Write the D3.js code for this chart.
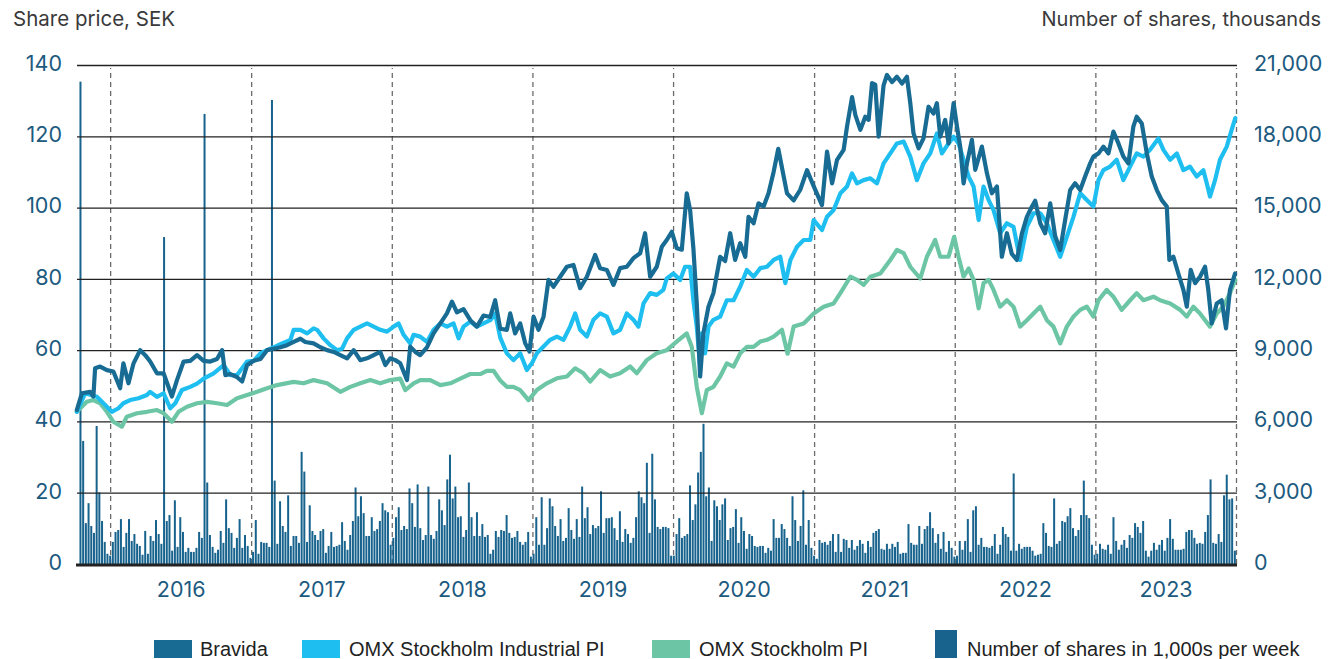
<!DOCTYPE html>
<html><head><meta charset="utf-8">
<script src="https://cdn.jsdelivr.net/npm/d3@7"></script>
<style>body{margin:0;background:#fff} svg{display:block}</style>
</head><body><svg id="c" width="1333" height="659"></svg>
<script>
// ---------- DATA ----------
const yearLabels = ["2016","2017","2018","2019","2020","2021","2022","2023"];
const leftTicks = [0,20,40,60,80,100,120,140];
const rightTicks = [0,3000,6000,9000,12000,15000,18000,21000];
const seriesNames = ["Bravida","OMX Stockholm Industrial PI","OMX Stockholm PI","Number of shares in 1,000s per week"];
const volumeStart = "2015-10-16"; // first weekly bar
// weekly volume, thousands of shares
const volume = [
20300,5180,1720,2560,1600,1310,5810,3010,1810,930,
430,350,930,1350,1430,1890,720,1310,1890,970,
1260,850,760,390,1390,430,1180,970,1850,1260,
850,13760,1810,2060,560,2680,720,1970,1350,510,
680,510,510,680,1350,1100,18940,3430,1220,720,
470,600,1390,890,2720,1510,1310,680,1100,1890,
680,1220,760,260,510,1850,430,930,890,890,
720,19530,3510,850,2640,1600,1350,2890,760,1180,
1180,890,4720,3890,930,2470,1390,1220,1010,1390,
1470,470,760,1350,720,760,810,1760,970,600,
1220,1810,3220,2010,2850,2140,1180,1180,1970,1390,
1470,1810,2560,2260,2180,810,1100,1970,2390,1430,
1600,1470,3180,2560,1560,3350,1510,1010,1220,3260,
1220,1060,1390,2720,2260,1640,3560,4600,2760,3260,
1970,2010,1140,1430,
3430,1970,1180,2180,1180,1680,1140,1220,430,600,
1390,1140,1430,1390,2060,1310,1100,1140,1390,930,
810,930,1350,310,430,1970,810,2810,810,1510,
2760,2430,1600,1180,1890,970,1100,2350,1430,1060,
1890,1140,3260,1930,2390,1260,1640,1510,1600,3060,
1310,1930,1930,1970,1510,1010,2220,930,1470,1260,
890,1100,1970,3060,2810,2560,4260,1310,4640,2720,
1560,1470,1560,1560,1510,350,350,1260,1930,1100,
1180,1260,3310,1850,2510,3850,4720,5900,2850,3220,
970,2680,2430,1850,2510,2760,1010,1510,1560,2310,
890,1970,1390,640,1260,1180,760,720,760,760,
470,680,560,1890,1100,1100,1680,1470,1100,760,
2850,1850,970,1600,3100,810,1850,680,350,220,
1010,890,930,810,970,1260,510,1260,510,1060,
1010,680,1010,600,
760,1010,850,470,970,720,1310,1390,1470,640,
600,850,640,850,720,930,430,470,470,1680,
890,810,810,1600,850,1470,1600,2180,1510,890,
1260,640,1350,510,970,680,310,350,970,600,
970,1890,510,2260,2430,810,1100,720,720,680,
760,1260,430,810,1560,1260,1140,560,3810,560,
850,640,720,720,720,560,350,390,430,1720,
1310,760,720,2760,850,970,1810,1760,2010,2350,
1510,1180,1430,2060,3510,2060,1930,810,390,430,
850,640,600,810,430,1970,970,600,810,1010,
680,1220,1100,1720,1560,1310,1810,560,310,560,
890,600,810,1010,560,1100,1890,1060,600,600,
600,640,1350,1430,1430,1100,850,890,850,1350,
2060,3560,890,850,1260,930,2890,3760,2720,2760,
560];
// [decimal year, SEK]
const bravida = [
[2015.763,43.2],[2015.799,47.9],[2015.858,48.3],[2015.881,47],[2015.893,54.9],[2015.929,55.4],[2015.977,54.4],[2016.023,54],[2016.071,49.3],[2016.094,56.3],
[2016.130,50.7],[2016.166,56.3],[2016.213,60],[2016.249,58.6],[2016.284,56.8],[2016.332,53.5],[2016.379,53.5],[2016.438,47],[2016.474,51.6],[2016.521,56.8],
[2016.568,57],[2016.616,58.6],[2016.663,57],[2016.710,56.8],[2016.758,57.5],[2016.794,60],[2016.817,53],[2016.853,53.3],[2016.900,52.4],[2016.936,51.2],
[2016.971,55.8],[2017.018,57],[2017.066,57.5],[2017.113,60],[2017.160,60.4],[2017.208,60.8],[2017.255,61.4],[2017.302,62.3],[2017.350,63.2],[2017.385,62.3],
[2017.444,61.9],[2017.492,60.8],[2017.540,60],[2017.587,59.5],[2017.634,58.6],[2017.682,57.7],[2017.729,60],[2017.776,57.2],[2017.824,57.7],[2017.871,58.6],
[2017.918,59.5],[2017.954,55.8],[2017.989,57.7],[2018.025,57.2],[2018.060,56.3],[2018.108,51.6],[2018.131,61],[2018.167,59.5],[2018.202,58.6],[2018.250,60.8],
[2018.297,64.7],[2018.345,67.5],[2018.392,70.3],[2018.428,73.6],[2018.463,70.6],[2018.510,71.5],[2018.558,68.4],[2018.605,66.6],[2018.652,69.7],[2018.700,69.3],
[2018.735,74],[2018.771,66],[2018.818,65.7],[2018.842,70.3],[2018.877,64.7],[2018.913,67.5],[2018.949,61.9],[2018.979,59.6],[2019.008,69.4],[2019.043,65.7],
[2019.079,69.4],[2019.114,79.7],[2019.150,77.8],[2019.197,80.6],[2019.245,83.4],[2019.292,83.9],[2019.339,77.4],[2019.387,80.6],[2019.446,86.7],[2019.481,83],
[2019.529,82.5],[2019.576,78.3],[2019.623,83],[2019.671,83.4],[2019.718,85.8],[2019.766,87.2],[2019.801,92.8],[2019.837,80.6],[2019.884,83.4],[2019.920,89],
[2019.955,90.9],[2019.991,93.2],[2020.026,88.6],[2020.062,88.2],[2020.097,104],[2020.121,99.3],[2020.144,88.6],[2020.168,73.1],[2020.192,52.6],[2020.215,64.7],
[2020.251,72.2],[2020.286,76],[2020.334,86.2],[2020.369,85],[2020.405,92.8],[2020.440,85.3],[2020.476,90],[2020.512,86.2],[2020.535,97.4],[2020.571,95.6],
[2020.606,101.2],[2020.642,100.3],[2020.677,104],[2020.713,110],[2020.746,116.5],[2020.808,104],[2020.855,102],[2020.902,105],[2020.950,110.5],[2020.997,106],
[2021.056,100.7],[2021.092,115.7],[2021.128,106.8],[2021.163,113.4],[2021.210,116.2],[2021.234,122.7],[2021.270,131],[2021.293,126],[2021.329,121.8],[2021.364,125.5],
[2021.388,124.6],[2021.412,134.9],[2021.435,134.5],[2021.459,119.9],[2021.494,134.3],[2021.518,137.2],[2021.554,135.2],[2021.589,136.7],[2021.625,134.8],[2021.660,136.7],
[2021.684,129.3],[2021.707,120.8],[2021.743,116.6],[2021.778,119.4],[2021.814,128.3],[2021.849,126.4],[2021.873,129.3],[2021.897,119.9],[2021.932,124.6],[2021.956,118],
[2021.992,129.3],[2022.016,122.7],[2022.039,117.1],[2022.063,106.8],[2022.087,112.4],[2022.122,119],[2022.146,110.6],[2022.193,117.1],[2022.229,109.6],[2022.264,104],
[2022.300,105.9],[2022.335,86.2],[2022.371,92.8],[2022.406,87],[2022.442,85.3],[2022.478,92.8],[2022.513,97.4],[2022.549,100.3],[2022.572,101.9],[2022.608,95.6],
[2022.643,92.8],[2022.679,101.2],[2022.714,92],[2022.750,88.1],[2022.785,96.5],[2022.821,104.9],[2022.856,106.8],[2022.892,104.9],[2022.927,108.7],[2022.963,112.4],
[2022.986,114.3],[2023.022,115.2],[2023.057,117.1],[2023.093,115.2],[2023.128,121.3],[2023.164,118],[2023.199,114.3],[2023.235,112.4],[2023.270,122.7],[2023.294,125.5],
[2023.330,123.6],[2023.366,115.2],[2023.401,108.7],[2023.437,104.9],[2023.472,102.1],[2023.508,100.3],[2023.526,85.3],[2023.555,86.2],[2023.590,81.5],[2023.626,76.9],
[2023.650,72.2],[2023.678,82.5],[2023.709,78.8],[2023.744,80.6],[2023.780,83.4],[2023.803,76.9],[2023.827,67.5],[2023.863,73.1],[2023.898,74],[2023.929,66.1],
[2023.957,76.9],[2023.993,81.5]];
const industrial = [
[2015.763,42.7],[2015.822,47.9],[2015.906,46.9],[2015.952,45.1],[2016.012,42.7],[2016.059,43.7],[2016.094,45.1],[2016.142,46],[2016.201,46.5],[2016.261,47.4],
[2016.284,48.3],[2016.332,46.9],[2016.379,47.9],[2016.426,43.7],[2016.462,45.1],[2016.509,48.8],[2016.568,49.7],[2016.616,50.6],[2016.663,52],[2016.734,53.5],
[2016.805,55.8],[2016.853,53],[2016.900,53],[2016.936,54.9],[2016.971,56.8],[2017.018,57],[2017.066,59.1],[2017.113,60],[2017.160,60.8],[2017.208,61.7],
[2017.279,62.9],[2017.302,65.7],[2017.350,65.7],[2017.398,64.7],[2017.444,66.1],[2017.469,65.7],[2017.515,63.3],[2017.563,61.4],[2017.611,60],[2017.646,60.4],
[2017.682,63.3],[2017.729,65.7],[2017.776,66.6],[2017.824,67.5],[2017.871,66.6],[2017.918,65.7],[2017.966,65.2],[2018.013,66.6],[2018.048,67.5],[2018.084,64.3],
[2018.131,61.9],[2018.155,64.3],[2018.202,63.8],[2018.250,62.3],[2018.297,65.7],[2018.345,67.5],[2018.392,66.6],[2018.439,67.5],[2018.475,63.3],[2018.510,66.6],
[2018.558,68],[2018.605,66.6],[2018.652,67.5],[2018.700,68.4],[2018.735,70.3],[2018.771,63.5],[2018.818,59.1],[2018.865,57.2],[2018.913,59.1],[2018.960,54.4],
[2018.996,56.3],[2019.031,59.1],[2019.079,61],[2019.126,62.9],[2019.174,63.8],[2019.221,62.9],[2019.268,66.6],[2019.304,70.3],[2019.339,65.7],[2019.387,63.8],
[2019.434,68.5],[2019.481,70.3],[2019.529,69.4],[2019.576,64.7],[2019.623,65.7],[2019.671,70.3],[2019.718,68.5],[2019.754,66.6],[2019.790,73.1],[2019.837,76],
[2019.884,75.5],[2019.931,76.9],[2019.955,80.1],[2020.003,81.5],[2020.050,79.7],[2020.085,83.4],[2020.121,83.4],[2020.144,74],[2020.168,66.6],[2020.192,55.4],
[2020.204,64.7],[2020.227,59.1],[2020.251,66.6],[2020.286,68.5],[2020.334,69.4],[2020.381,74],[2020.429,74],[2020.476,77.8],[2020.523,82.5],[2020.571,80.6],
[2020.618,83],[2020.666,83.4],[2020.713,85.3],[2020.760,86.2],[2020.796,78.8],[2020.832,85.3],[2020.879,89],[2020.926,90.9],[2020.973,90.9],[2020.997,96.5],
[2021.056,93.7],[2021.092,97.4],[2021.139,99.3],[2021.187,104],[2021.234,105.9],[2021.270,109.6],[2021.305,106.8],[2021.352,107.7],[2021.400,108.2],[2021.447,106.8],
[2021.494,112.4],[2021.542,115.2],[2021.589,118],[2021.637,118.5],[2021.684,114.3],[2021.731,107.7],[2021.778,112.4],[2021.826,115.2],[2021.873,120.8],[2021.909,115.2],
[2021.956,118],[2021.992,119.9],[2022.027,118],[2022.063,113.4],[2022.099,108.7],[2022.134,105.9],[2022.170,96.5],[2022.205,105.9],[2022.241,102.1],[2022.276,99.3],
[2022.323,92.8],[2022.371,95.6],[2022.418,94.6],[2022.465,85.3],[2022.513,94.6],[2022.560,98.4],[2022.608,98.4],[2022.655,95.6],[2022.702,90.9],[2022.750,86.2],
[2022.797,91.8],[2022.844,97.4],[2022.892,104],[2022.939,102.1],[2022.986,100.3],[2023.022,107.7],[2023.057,110.5],[2023.105,111.5],[2023.152,113.4],[2023.199,107.7],
[2023.247,111.5],[2023.294,115.2],[2023.342,114.3],[2023.389,116.2],[2023.448,119.4],[2023.484,116.2],[2023.532,113.4],[2023.579,115.2],[2023.626,110.5],[2023.673,111.5],
[2023.721,108.7],[2023.768,110.5],[2023.792,106.8],[2023.815,103.1],[2023.851,107.7],[2023.886,113.4],[2023.934,117.1],[2023.969,121.8],[2023.995,125.1]];
const omx = [
[2015.763,42.7],[2015.834,45.5],[2015.881,46],[2015.929,45.1],[2015.977,42.7],[2016.023,39.9],[2016.083,38.5],[2016.118,41.3],[2016.190,42.3],[2016.261,42.7],
[2016.332,43.2],[2016.379,42.3],[2016.438,39.9],[2016.485,42.7],[2016.545,44.1],[2016.616,45.1],[2016.687,45.5],[2016.758,45.1],[2016.829,44.6],[2016.900,46.5],
[2016.971,47.4],[2017.042,48.3],[2017.113,49.3],[2017.184,50.2],[2017.302,51.1],[2017.373,50.7],[2017.444,51.6],[2017.540,50.7],[2017.634,48.3],[2017.705,49.7],
[2017.776,50.7],[2017.847,51.6],[2017.918,50.7],[2017.989,51.6],[2018.060,52],[2018.096,48.8],[2018.155,50.7],[2018.202,51.6],[2018.274,51.6],[2018.345,50.2],
[2018.416,50.7],[2018.487,52],[2018.558,53.3],[2018.629,53.3],[2018.676,54.2],[2018.723,54.2],[2018.771,51.5],[2018.818,49.7],[2018.865,49.7],[2018.913,48.8],
[2018.972,46],[2019.031,48.8],[2019.102,50.7],[2019.174,52.1],[2019.245,52.6],[2019.304,54.9],[2019.363,53.5],[2019.410,51.2],[2019.481,54.4],[2019.552,52.6],
[2019.623,53.5],[2019.695,55.4],[2019.742,53.5],[2019.813,57.2],[2019.884,59.1],[2019.955,60],[2020.026,62.4],[2020.097,64.7],[2020.133,60.9],[2020.168,49.7],
[2020.204,42.3],[2020.239,48.8],[2020.286,49.7],[2020.334,52.6],[2020.381,56.3],[2020.429,55.4],[2020.476,59.1],[2020.523,60.9],[2020.571,60.9],[2020.618,62.4],
[2020.666,62.9],[2020.713,63.8],[2020.772,65.7],[2020.812,59],[2020.855,66.6],[2020.926,67.5],[2020.997,70.3],[2021.068,72.2],[2021.139,73.1],[2021.187,76],
[2021.258,80.6],[2021.305,79.7],[2021.352,78.3],[2021.400,80.6],[2021.471,81.5],[2021.542,85.3],[2021.589,88.1],[2021.637,87.2],[2021.684,83.4],[2021.755,80.1],
[2021.802,86.2],[2021.861,90.9],[2021.897,86.2],[2021.956,86.2],[2021.996,91.8],[2022.027,86.2],[2022.063,80.6],[2022.099,82.9],[2022.134,79.7],[2022.170,71.7],
[2022.205,78.8],[2022.241,79.7],[2022.276,76.9],[2022.323,72.2],[2022.371,74],[2022.418,72.2],[2022.465,66.6],[2022.513,68.4],[2022.560,70.3],[2022.608,72.2],
[2022.655,68.4],[2022.702,66.6],[2022.750,61.9],[2022.797,66.6],[2022.844,69.4],[2022.892,71.3],[2022.939,72.2],[2022.986,69.4],[2023.022,74],[2023.081,76.9],
[2023.128,75],[2023.187,71.3],[2023.247,74],[2023.294,76],[2023.342,74],[2023.413,75],[2023.460,74],[2023.532,73.1],[2023.603,71.3],[2023.650,69.4],
[2023.697,72.2],[2023.744,70.3],[2023.815,66.6],[2023.863,70.3],[2023.910,72.2],[2023.957,76],[2023.995,79.7]];

// ---------- STYLE ----------
const C = {bravida:"#186b93", industrial:"#1ebff0", omx:"#6cc6a5", bars:"#17638d", axis:"#1c5a80", head:"#3a3a3a"};
const M = {left:77, right:1237, top:65, bottom:564};

const svg = d3.select("#c");
const toDate = t => { const y = Math.floor(t); const a = Date.UTC(y,0,1), b = Date.UTC(y+1,0,1); return new Date(a + (t-y)*(b-a)); };

const x = d3.scaleUtc().domain([new Date(Date.UTC(2015,9,7)), new Date(Date.UTC(2024,0,1))]).range([M.left, M.right-1]);
const yL = d3.scaleLinear().domain([0,140]).range([M.bottom, M.top]);
const yR = d3.scaleLinear().domain([0,21000]).range([M.bottom, M.top]);

const font = "Inter, 'Noto Sans', sans-serif";

// headers
svg.append("text").attr("x",13).attr("y",26).attr("font-family",font).attr("font-size",20.5).attr("fill",C.head).text("Share price, SEK");
svg.append("text").attr("x",1321).attr("y",26).attr("text-anchor","end").attr("font-family",font).attr("font-size",20).attr("fill",C.head).text("Number of shares, thousands");

// dashed year separators
const yearStarts = d3.range(2016,2025).map(y => new Date(Date.UTC(y,0,1)));
const gDash = svg.append("g").attr("transform",`translate(0,${M.bottom})`)
  .call(d3.axisBottom(x).tickValues(yearStarts).tickSize(-(M.bottom-M.top-3)).tickFormat(""));
gDash.select(".domain").remove();
gDash.selectAll("line").attr("stroke","#6b6b6b").attr("stroke-width",1.3).attr("stroke-dasharray","5,4");

// bars
const start = new Date(volumeStart+"T00:00:00Z");
svg.append("g").selectAll("rect").data(volume).join("rect")
  .attr("x",(d,i)=> x(d3.utcDay.offset(start,i*7)) - 1)
  .attr("width",2)
  .attr("y",d=>yR(d))
  .attr("height",d=>M.bottom - yR(d))
  .attr("fill",C.bars);

// gridlines
const gGrid = svg.append("g").attr("transform",`translate(${M.left},0)`)
  .call(d3.axisLeft(yL).tickValues(leftTicks.slice(1)).tickSize(-(M.right-M.left)).tickFormat(""));
gGrid.select(".domain").remove();
gGrid.selectAll("line").attr("stroke","#222").attr("stroke-width",1.3);

// lines
const line = d3.line().x(d=>x(toDate(d[0]))).y(d=>yL(d[1]));
[[omx,C.omx],[industrial,C.industrial],[bravida,C.bravida]].forEach(([data,col])=>{
  svg.append("path").datum(data).attr("d",line).attr("fill","none").attr("stroke",col)
    .attr("stroke-width",4.2).attr("stroke-linejoin","round").attr("stroke-linecap","round");
});

// baseline
svg.append("line").attr("x1",M.left-1).attr("x2",M.right).attr("y1",M.bottom+1).attr("y2",M.bottom+1).attr("stroke","#222").attr("stroke-width",3);

// left axis
const gL = svg.append("g").attr("transform",`translate(${M.left},0)`)
  .call(d3.axisLeft(yL).tickValues(leftTicks).tickSize(0).tickPadding(15));
gL.select(".domain").remove();
gL.selectAll("text").attr("font-family",font).attr("font-size",21.5).attr("fill",C.axis).attr("dy","0.25em");

// right axis
const gR = svg.append("g").attr("transform",`translate(${M.right},0)`)
  .call(d3.axisRight(yR).tickValues(rightTicks).tickSize(0).tickPadding(17).tickFormat(d3.format(",")));
gR.select(".domain").remove();
gR.selectAll("text").attr("font-family",font).attr("font-size",21.5).attr("fill",C.axis).attr("dy","0.25em");

// year labels
const yearMid = yearLabels.map(y => new Date(Date.UTC(+y,6,2)));
const gX = svg.append("g").attr("transform",`translate(0,${M.bottom})`)
  .call(d3.axisBottom(x).tickValues(yearMid).tickSize(0).tickPadding(18).tickFormat((d,i)=>yearLabels[i]));
gX.select(".domain").remove();
gX.selectAll("text").attr("font-family",font).attr("font-size",21.5).attr("fill",C.axis);

// legend
const lfont = "'Liberation Sans', Arial, sans-serif";
const leg = [
  {name:seriesNames[0], col:C.bravida, rx:154, ry:640, rw:38, rh:18, tx:200},
  {name:seriesNames[1], col:C.industrial, rx:302, ry:640, rw:38, rh:18, tx:349},
  {name:seriesNames[2], col:C.omx, rx:652, ry:640, rw:38, rh:18, tx:699},
  {name:seriesNames[3], col:C.bars, rx:935, ry:630, rw:22, rh:28, tx:967}
];
const gLeg = svg.append("g");
leg.forEach(l=>{
  gLeg.append("rect").attr("x",l.rx).attr("y",l.ry).attr("width",l.rw).attr("height",l.rh).attr("fill",l.col);
  gLeg.append("text").attr("x",l.tx).attr("y",656).attr("font-family",lfont).attr("font-size",20).attr("fill","#222").text(l.name);
});
</script></body></html>
